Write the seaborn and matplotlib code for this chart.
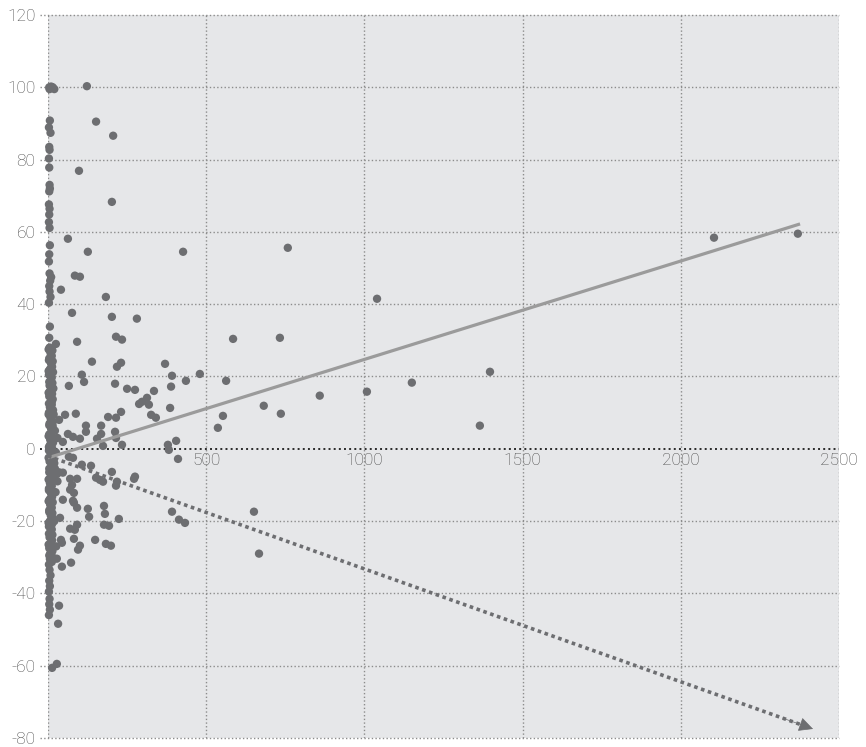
import matplotlib
matplotlib.use('Agg')
import matplotlib.pyplot as plt
import seaborn as sns

# points spread out over the x range
spread_x = [123, 152, 206, 98, 202, 63, 126, 427, 758,
            1040, 859, 1008, 1150, 1397, 1365, 2105, 2370,
            585, 733, 563, 682, 736, 553, 537, 480, 436, 392, 389, 370, 335, 386, 341, 326, 319,
            313, 297, 288, 275, 250, 281, 202, 183, 215, 234, 231, 218, 212, 139, 107, 114, 66,
            76, 92, 25, 41, 85, 101, 231, 215, 190, 88, 54, 35, 168, 120, 120, 168, 212, 215,
            63, 79, 101, 155, 174, 234, 379, 405, 47, 382, 411, 651, 667, 392, 414, 433, 275,
            272, 224, 215, 218, 202, 177, 180, 177, 193, 183, 199, 149, 174, 164, 152, 136, 107,
            126, 130, 92, 70, 82, 101, 95, 41, 44, 73, 44, 28, 35, 32, 28, 13, 82, 92, 79, 47,
            70, 82, 76, 92, 70, 85, 79, 66, 47, 38]
spread_y = [100.3, 90.5, 86.6, 76.9, 68.3, 58.1, 54.5, 54.5, 55.6,
            41.5, 14.7, 15.8, 18.3, 21.3, 6.4, 58.4, 59.5,
            30.4, 30.7, 18.8, 11.9, 9.7, 9.1, 5.8, 20.7, 18.8, 20.2, 17.2, 23.5, 16.0, 11.3, 8.6, 9.4, 12.2,
            14.1, 13.0, 12.4, 16.3, 16.6, 36.0, 36.5, 42.0, 31.0, 30.2, 23.8, 22.7, 18.0, 24.1, 20.5, 18.5, 17.4,
            37.6, 29.6, 29.0, 44.0, 47.9, 47.6, 10.2, 8.6, 8.8, 9.7, 9.4, 8.0, 6.4, 6.4, 4.7, 4.1, 4.7, 3.0,
            4.1, 3.3, 2.8, 2.8, 0.8, 1.1, 1.1, 2.2, 1.9, -0.3, -2.8, -17.4, -29.0, -17.4, -19.6, -20.5, -7.7,
            -8.3, -19.4, -10.2, -9.1, -6.4, -15.8, -18.0, -21.0, -21.3, -26.3, -26.8, -25.2, -9.1, -8.6, -8.0, -4.7, -4.4,
            -16.6, -18.8, -21.0, -22.1, -24.9, -26.8, -27.9, -25.2, -26.0, -31.5, -32.6, -30.4, -43.4, -48.4, -59.5, -60.6, -14.9, -16.3, -14.4, -14.1,
            -11.3, -12.2, -10.0, -8.3, -8.3, -22.4, -2.5, -2.2, -6.6, -19.1]

# dense column of points near x = 0
column_x = [5, 8, 4, 10, 6, 3, 9, 5, 7, 4, 12, 6, 3, 8, 5, 10, 4, 7, 6, 3,
            9, 5, 11, 4, 8, 6, 3, 10, 5, 7, 4, 9, 6, 3, 8, 5, 10, 4, 7, 6,
            3, 5, 8, 4, 6, 3, 5, 4, 6, 3,
            18, 22, 15, 25, 20, 28, 30, 24, 16, 20, 26, 14, 30, 18, 22, 35,
            4, 6, 3, 8, 5, 4, 7, 10, 5, 3, 4, 6, 5, 3, 4, 5, 3, 4, 6, 5,
            4, 3, 5, 4, 8, 3, 6, 5, 4, 10, 15, 20,
            # second, slightly offset layer of the column
            14, 12, 15, 13, 16, 12, 14, 17, 13, 15, 12, 16, 14, 13, 15, 12, 14, 16, 13, 15,
            12, 14, 16, 13, 15, 12, 14, 13, 15, 12, 14, 16, 13, 12, 14, 13, 12, 14, 13, 12,
            2, 3, 2, 4, 2, 3, 2, 4, 2, 3, 2, 4, 2, 3, 2, 4, 2, 3, 2, 4]
column_y = [28, 26.5, 25, 23.5, 22, 20.5, 19, 17.5, 16, 14.5, 13, 11.5, 10, 8.5, 7, 5.5, 4, 2.5, 1, -0.5,
            -2, -3.5, -5, -6.5, -8, -9.5, -11, -12.5, -14, -15.5, -17, -18.5, -20, -21.5, -23, -24.5, -26, -27.5, -29, -30.5,
            -32, -33.5, -35, -36.5, -38, -39.5, -41.5, -43, -44.5, -46,
            9.5, 5, 2, -1, -4, -7, -9, -12, -19.5, -20, -27, 7, 3, -6, -5.5, -6.5,
            30.7, 33.8, 40.4, 42, 43.5, 45, 46.5, 47.5, 48.5, 51.8, 53.8, 56.3, 61.1, 62.7, 64.8, 66.4, 67.6, 71.2, 72.0, 73.0,
            77.8, 80.3, 82.7, 83.5, 87.4, 88.9, 90.8, 99.5, 100, 100.2, 100, 99.5,
            27.2, 25.7, 24.2, 22.7, 21.2, 19.7, 18.2, 16.7, 15.2, 13.7, 12.2, 10.7, 9.2, 7.7, 6.2, 4.7, 3.2, 1.7, 0.2, -1.3,
            -2.8, -4.3, -5.8, -7.3, -8.8, -10.3, -11.8, -13.3, -14.8, -16.3, -17.8, -19.3, -20.8, -22.3, -23.8, -25.3, -26.8, -28.3, -29.8, -31.3,
            27.5, 24.5, 21.5, 18.5, 15.5, 12.5, 9.5, 6.5, 3.5, 0.5, -2.5, -5.5, -8.5, -11.5, -14.5, -17.5, -20.5, -23.5, -26.5, -29.5]

# trend line and arrow (start, end)
trend_x = [0, 2377]
trend_y = [-2.5, 62.2]
arrow_x = [0, 2418]
arrow_y = [-2.0, -77.5]

x_ticks = [500, 1000, 1500, 2000, 2500]
y_ticks = [-80, -60, -40, -20, 0, 20, 40, 60, 80, 100, 120]

sns.set_style('white')
plt.rcParams['font.family'] = ['Roboto', 'DejaVu Sans']

fig = plt.figure(figsize=(8.66, 7.47), dpi=100)
ax = fig.add_axes([0.0554, 0.01205, 0.9134, 0.9679])
ax.set_facecolor('#e6e7e9')
for s in ax.spines.values():
    s.set_visible(False)

ax.set_xlim(0, 2500)
ax.set_ylim(-80, 120)

# dotted grid, extending a little left of the axis
grid_c = '#8c8c8c'
ax.hlines([t for t in y_ticks if t != 0], -25, 2500, colors=grid_c, linestyles=':',
          linewidth=1.0, clip_on=False, zorder=1)
ax.hlines([0], -25, 2500, colors='#2a2a2a', linestyles=':', linewidth=1.4, clip_on=False, zorder=1)
ax.vlines([0] + x_ticks, -80, 120, colors=grid_c, linestyles=':', linewidth=1.0, zorder=1)

pt_color = '#6d6e71'
sns.scatterplot(x=spread_x + column_x, y=spread_y + column_y, ax=ax, color=pt_color,
                s=36, edgecolor='none', linewidth=0, clip_on=False, zorder=3)

ax.plot(trend_x, trend_y, color='#9b9b9b', linewidth=2.3, zorder=4, solid_capstyle='butt')

# dotted arrow
end_x = arrow_x[0] + (arrow_x[1] - arrow_x[0]) * 0.985
end_y = arrow_y[0] + (arrow_y[1] - arrow_y[0]) * 0.985
ax.plot([arrow_x[0], end_x], [arrow_y[0], end_y], color=pt_color, linewidth=2.6,
        linestyle=(0, (1, 1)), dash_capstyle='butt', zorder=4)
ax.annotate('', xy=(arrow_x[1], arrow_y[1]),
            xytext=(arrow_x[0] + (arrow_x[1] - arrow_x[0]) * 0.96, arrow_y[0] + (arrow_y[1] - arrow_y[0]) * 0.96),
            arrowprops=dict(arrowstyle='-|>,head_length=0.9,head_width=0.45', color=pt_color,
                            linewidth=0.5, shrinkA=0, shrinkB=0), zorder=5)

# ticks
ax.set_yticks(y_ticks)
ax.set_yticklabels([str(t) for t in y_ticks])
ax.set_xticks(x_ticks)
ax.set_xticklabels([str(t) for t in x_ticks])
ax.spines['bottom'].set_position(('data', 0))
ax.tick_params(axis='y', length=0, pad=9, labelsize=12.5, labelcolor='#4a4a4a')
ax.tick_params(axis='x', length=0, pad=3, labelsize=12.5, labelcolor='#4a4a4a')
for lab in ax.get_xticklabels() + ax.get_yticklabels():
    lab.set_fontweight('light')
ax.grid(False)

fig.savefig('out.png', dpi=100)
